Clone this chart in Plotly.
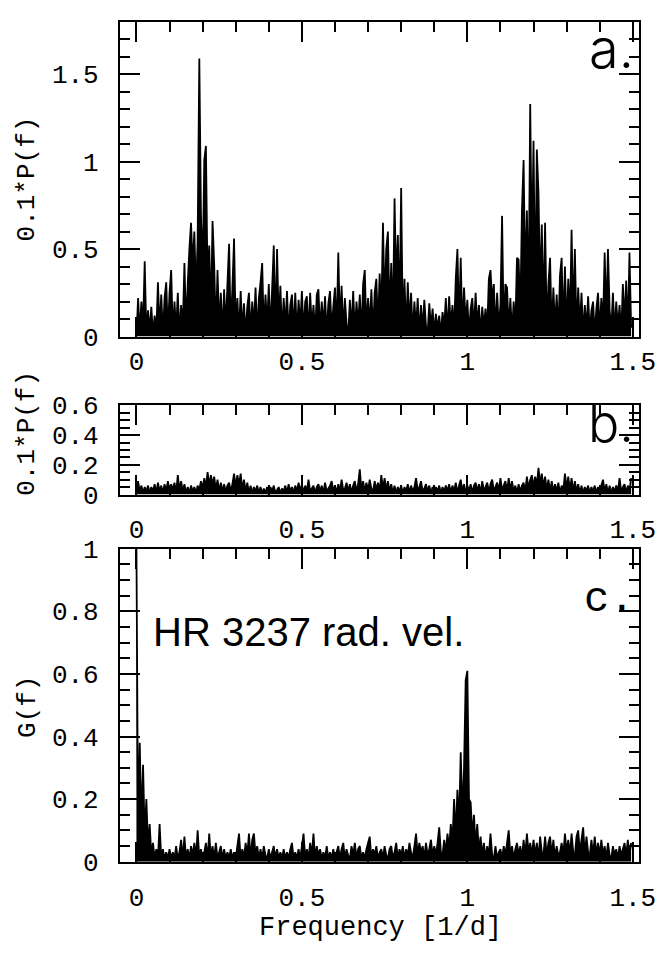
import numpy as np
import plotly.graph_objects as go

# frequency grid [1/d]
freq = np.round(np.arange(300) * 0.005, 3)

# panel a: 0.1*P(f)
power_a = [
    0.00, 0.22, 0.02, 0.20, 0.05, 0.43, 0.01, 0.15, 0.03, 0.17, 0.01, 0.12, 0.02, 0.31, 0.04, 0.24, 0.01, 0.22, 0.31, 0.02,
    0.25, 0.38, 0.01, 0.20, 0.03, 0.25, 0.01, 0.18, 0.04, 0.42, 0.06, 0.30, 0.50, 0.65, 0.40, 0.60, 0.25, 0.55, 1.59, 0.70,
    0.35, 1.01, 1.09, 0.30, 0.52, 0.10, 0.66, 0.41, 0.02, 0.38, 0.05, 0.25, 0.01, 0.27, 0.04, 0.30, 0.53, 0.03, 0.28, 0.56,
    0.04, 0.22, 0.01, 0.26, 0.03, 0.19, 0.01, 0.17, 0.25, 0.02, 0.20, 0.05, 0.28, 0.01, 0.22, 0.31, 0.42, 0.03, 0.24, 0.06,
    0.30, 0.02, 0.27, 0.52, 0.04, 0.50, 0.07, 0.29, 0.01, 0.22, 0.05, 0.26, 0.01, 0.18, 0.24, 0.03, 0.25, 0.01, 0.21, 0.06,
    0.26, 0.02, 0.20, 0.23, 0.01, 0.25, 0.05, 0.18, 0.02, 0.24, 0.27, 0.03, 0.20, 0.06, 0.23, 0.01, 0.19, 0.26, 0.04, 0.17,
    0.28, 0.02, 0.48, 0.05, 0.29, 0.03, 0.22, 0.07, 0.01, 0.21, 0.04, 0.26, 0.02, 0.20, 0.06, 0.24, 0.01, 0.30, 0.38, 0.04,
    0.22, 0.06, 0.27, 0.02, 0.25, 0.33, 0.05, 0.36, 0.12, 0.65, 0.18, 0.50, 0.60, 0.10, 0.42, 0.07, 0.79, 0.30, 0.58, 0.12,
    0.85, 0.04, 0.33, 0.02, 0.31, 0.08, 0.25, 0.01, 0.20, 0.05, 0.22, 0.01, 0.18, 0.04, 0.21, 0.06, 0.02, 0.19, 0.05, 0.16,
    0.02, 0.13, 0.04, 0.12, 0.01, 0.14, 0.05, 0.22, 0.02, 0.23, 0.06, 0.18, 0.03, 0.33, 0.50, 0.07, 0.45, 0.03, 0.28, 0.08,
    0.21, 0.01, 0.16, 0.22, 0.04, 0.25, 0.06, 0.18, 0.01, 0.17, 0.06, 0.16, 0.03, 0.33, 0.38, 0.20, 0.30, 0.03, 0.25, 0.05,
    0.18, 0.69, 0.02, 0.30, 0.28, 0.04, 0.22, 0.02, 0.20, 0.05, 0.45, 0.44, 0.12, 0.72, 1.01, 0.30, 0.72, 0.15, 1.33, 0.45,
    1.12, 0.20, 1.07, 0.82, 0.25, 0.64, 0.12, 0.65, 0.04, 0.30, 0.45, 0.02, 0.28, 0.05, 0.24, 0.02, 0.35, 0.45, 0.05, 0.40,
    0.03, 0.33, 0.08, 0.61, 0.10, 0.50, 0.02, 0.28, 0.05, 0.25, 0.01, 0.18, 0.04, 0.23, 0.02, 0.15, 0.20, 0.01, 0.16, 0.25,
    0.03, 0.22, 0.06, 0.48, 0.10, 0.50, 0.15, 0.04, 0.25, 0.02, 0.20, 0.05, 0.18, 0.01, 0.30, 0.08, 0.32, 0.03, 0.48, 0.05,
]

# panel b: 0.1*P(f)
power_b = [
    0.01, 0.09, 0.02, 0.06, 0.01, 0.05, 0.02, 0.06, 0.01, 0.05, 0.02, 0.07, 0.01, 0.08, 0.02, 0.06, 0.01, 0.07, 0.02, 0.09,
    0.02, 0.07, 0.03, 0.08, 0.01, 0.13, 0.03, 0.09, 0.02, 0.07, 0.01, 0.05, 0.01, 0.06, 0.02, 0.05, 0.01, 0.06, 0.03, 0.09,
    0.04, 0.11, 0.05, 0.15, 0.06, 0.13, 0.07, 0.12, 0.03, 0.10, 0.02, 0.08, 0.02, 0.07, 0.02, 0.06, 0.08, 0.02, 0.07, 0.14,
    0.05, 0.13, 0.07, 0.14, 0.03, 0.10, 0.02, 0.08, 0.01, 0.06, 0.01, 0.05, 0.02, 0.06, 0.01, 0.05, 0.01, 0.04, 0.01, 0.05,
    0.01, 0.05, 0.02, 0.06, 0.01, 0.03, 0.05, 0.01, 0.04, 0.02, 0.06, 0.01, 0.07, 0.02, 0.05, 0.01, 0.06, 0.02, 0.08, 0.02,
    0.07, 0.01, 0.06, 0.02, 0.10, 0.02, 0.04, 0.06, 0.01, 0.05, 0.07, 0.02, 0.06, 0.01, 0.08, 0.02, 0.04, 0.06, 0.09, 0.02,
    0.06, 0.01, 0.07, 0.02, 0.10, 0.03, 0.04, 0.08, 0.02, 0.07, 0.01, 0.06, 0.09, 0.02, 0.07, 0.17, 0.03, 0.09, 0.02, 0.08,
    0.03, 0.10, 0.04, 0.02, 0.09, 0.03, 0.08, 0.02, 0.13, 0.04, 0.11, 0.03, 0.09, 0.02, 0.07, 0.01, 0.06, 0.01, 0.05, 0.02,
    0.06, 0.01, 0.05, 0.02, 0.07, 0.01, 0.06, 0.02, 0.05, 0.11, 0.03, 0.05, 0.09, 0.02, 0.04, 0.07, 0.02, 0.06, 0.01, 0.05,
    0.01, 0.05, 0.02, 0.06, 0.01, 0.05, 0.02, 0.06, 0.02, 0.07, 0.01, 0.06, 0.02, 0.08, 0.01, 0.06, 0.10, 0.02, 0.07, 0.01,
    0.06, 0.02, 0.07, 0.01, 0.06, 0.08, 0.02, 0.07, 0.01, 0.09, 0.03, 0.05, 0.08, 0.02, 0.07, 0.10, 0.03, 0.05, 0.08, 0.02,
    0.11, 0.03, 0.06, 0.09, 0.02, 0.11, 0.03, 0.09, 0.02, 0.06, 0.01, 0.07, 0.02, 0.06, 0.08, 0.02, 0.12, 0.04, 0.10, 0.13,
    0.05, 0.12, 0.06, 0.18, 0.07, 0.14, 0.05, 0.12, 0.03, 0.10, 0.02, 0.09, 0.02, 0.07, 0.02, 0.08, 0.01, 0.06, 0.03, 0.14,
    0.04, 0.12, 0.03, 0.11, 0.02, 0.09, 0.02, 0.07, 0.01, 0.06, 0.01, 0.05, 0.02, 0.06, 0.01, 0.05, 0.02, 0.06, 0.01, 0.05,
    0.01, 0.06, 0.10, 0.02, 0.07, 0.01, 0.06, 0.01, 0.05, 0.02, 0.06, 0.02, 0.11, 0.02, 0.05, 0.07, 0.01, 0.06, 0.02, 0.11,
]

# panel c: G(f)
gfunc_c = [
    1.00, 0.10, 0.38, 0.12, 0.31, 0.08, 0.20, 0.05, 0.12, 0.02, 0.06, 0.01, 0.04, 0.01, 0.12, 0.01, 0.04, 0.01, 0.03, 0.01,
    0.04, 0.01, 0.03, 0.01, 0.05, 0.01, 0.03, 0.07, 0.01, 0.08, 0.01, 0.04, 0.01, 0.05, 0.02, 0.06, 0.01, 0.10, 0.01, 0.04,
    0.01, 0.03, 0.06, 0.01, 0.09, 0.01, 0.05, 0.01, 0.06, 0.01, 0.03, 0.05, 0.01, 0.04, 0.01, 0.03, 0.01, 0.04, 0.01, 0.03,
    0.01, 0.05, 0.09, 0.01, 0.04, 0.01, 0.06, 0.02, 0.09, 0.01, 0.07, 0.09, 0.02, 0.05, 0.01, 0.04, 0.01, 0.05, 0.02, 0.01,
    0.04, 0.01, 0.03, 0.05, 0.01, 0.04, 0.01, 0.03, 0.01, 0.04, 0.01, 0.03, 0.01, 0.04, 0.06, 0.01, 0.03, 0.01, 0.04, 0.01,
    0.05, 0.09, 0.01, 0.04, 0.01, 0.06, 0.02, 0.09, 0.01, 0.05, 0.02, 0.04, 0.01, 0.03, 0.01, 0.05, 0.01, 0.03, 0.01, 0.04,
    0.01, 0.03, 0.05, 0.01, 0.04, 0.06, 0.01, 0.04, 0.02, 0.01, 0.05, 0.02, 0.06, 0.01, 0.04, 0.05, 0.01, 0.03, 0.01, 0.04,
    0.06, 0.08, 0.01, 0.04, 0.02, 0.05, 0.01, 0.03, 0.04, 0.01, 0.05, 0.02, 0.01, 0.04, 0.05, 0.01, 0.03, 0.06, 0.01, 0.04,
    0.02, 0.05, 0.01, 0.04, 0.02, 0.06, 0.03, 0.01, 0.05, 0.09, 0.02, 0.06, 0.03, 0.05, 0.01, 0.06, 0.02, 0.04, 0.07, 0.02,
    0.05, 0.02, 0.06, 0.11, 0.03, 0.02, 0.07, 0.03, 0.09, 0.04, 0.12, 0.06, 0.20, 0.08, 0.23, 0.12, 0.35, 0.15, 0.30, 0.58,
    0.61, 0.20, 0.19, 0.08, 0.15, 0.05, 0.12, 0.03, 0.08, 0.02, 0.06, 0.01, 0.05, 0.02, 0.09, 0.02, 0.01, 0.05, 0.01, 0.03,
    0.04, 0.01, 0.05, 0.02, 0.06, 0.10, 0.02, 0.05, 0.01, 0.04, 0.06, 0.02, 0.05, 0.01, 0.07, 0.02, 0.09, 0.03, 0.06, 0.02,
    0.07, 0.02, 0.06, 0.01, 0.08, 0.03, 0.02, 0.08, 0.02, 0.06, 0.08, 0.02, 0.07, 0.01, 0.05, 0.02, 0.03, 0.06, 0.02, 0.09,
    0.03, 0.07, 0.02, 0.09, 0.03, 0.02, 0.08, 0.10, 0.03, 0.07, 0.11, 0.02, 0.08, 0.03, 0.02, 0.07, 0.02, 0.08, 0.02, 0.06,
    0.02, 0.07, 0.02, 0.05, 0.01, 0.06, 0.02, 0.01, 0.05, 0.02, 0.04, 0.01, 0.05, 0.02, 0.04, 0.06, 0.02, 0.07, 0.02, 0.06,
]

W, H = 672, 962
MONO = "Liberation Mono"

def py(px):
    return 1 - px / H

X_DOM = [123 / W, 656 / W]
DOMS = {
    "a": [py(334), py(9)],
    "b": [py(497), py(405)],
    "c": [py(876), py(553)],
}

fig = go.Figure()
for i, yy in enumerate([power_a, power_b, gfunc_c], start=1):
    fig.add_trace(go.Scatter(
        x=freq, y=yy, mode="lines",
        line=dict(color="black", width=1.8, simplify=False),
        fill="tozeroy", fillcolor="black",
        xaxis="x" if i == 1 else f"x{i}",
        yaxis="y" if i == 1 else f"y{i}",
        showlegend=False, hoverinfo="skip",
    ))

tickfont = dict(family=MONO, size=26, color="black")

def xaxis(anchor, standoff):
    return dict(
        domain=X_DOM, anchor=anchor, range=[-0.05, 1.52],
        showgrid=False, zeroline=False, showline=True, linecolor="black", linewidth=2,
        mirror="allticks", ticks="inside", ticklen=20, tickwidth=1.5, tickcolor="black",
        tick0=0, dtick=0.5, tickfont=tickfont, ticklabelstandoff=standoff,
        ticklabeloverflow="allow",
        minor=dict(ticks="inside", ticklen=10, tickwidth=1.5, tickcolor="black", dtick=0.1, tick0=0, showgrid=False),
    )

def yaxis(anchor, dom, rng, dtick, mdtick):
    return dict(
        domain=dom, anchor=anchor, range=rng,
        showgrid=False, zeroline=False, showline=True, linecolor="black", linewidth=2,
        mirror="allticks", ticks="inside", ticklen=20, tickwidth=1.5, tickcolor="black",
        tick0=0, dtick=dtick, tickfont=tickfont, ticklabelstandoff=14,
        ticklabeloverflow="allow",
        minor=dict(ticks="inside", ticklen=10, tickwidth=1.5, tickcolor="black", dtick=mdtick, tick0=0, showgrid=False),
    )

fig.update_layout(
    width=W, height=H, margin=dict(l=0, r=0, t=0, b=0),
    paper_bgcolor="white", plot_bgcolor="white",
    xaxis=xaxis("y", 0),
    xaxis2=xaxis("y2", 10),
    xaxis3=xaxis("y3", 11),
    yaxis=yaxis("x", DOMS["a"], [0, 1.8], 0.5, 0.1),
    yaxis2=yaxis("x2", DOMS["b"], [0, 0.6], 0.2, 0.05),
    yaxis3=yaxis("x3", DOMS["c"], [0, 1.0], 0.2, 0.05),
)

ann = []
titlefont = dict(family=MONO, size=26, color="black")
for label, yc in [("0.1*P(f)", (9 + 334) / 2), ("0.1*P(f)", 434), ("G(f)", 716)]:
    ann.append(dict(text=label, x=28 / W, y=py(yc), xref="paper", yref="paper",
                    textangle=-90, showarrow=False, font=titlefont, xanchor="center", yanchor="middle"))
ann.append(dict(text="Frequency [1/d]", x=390 / W, y=py(962), xref="paper", yref="paper",
                showarrow=False, font=dict(family=MONO, size=27, color="black"), xanchor="center", yanchor="bottom"))
ann.append(dict(text="HR 3237 rad. vel.", x=155 / W, y=py(639), xref="paper", yref="paper",
                showarrow=False, font=dict(family="Liberation Sans", size=40, color="black"),
                xanchor="left", yanchor="middle"))
for lab, yc, fam, sz in [("a.", 37, "Inter", 54), ("b.", 424, "Inter", 52), ("c.", 606, MONO, 42)]:
    ann.append(dict(text=lab, x=652 / W, y=py(yc), xref="paper", yref="paper", showarrow=False,
                    font=dict(family=fam, size=sz, color="black", weight=300),
                    xanchor="right", yanchor="middle"))
fig.update_layout(annotations=ann)

fig.write_html("out.html", post_script="document.body.style.margin='0';document.body.style.overflow='hidden';")
